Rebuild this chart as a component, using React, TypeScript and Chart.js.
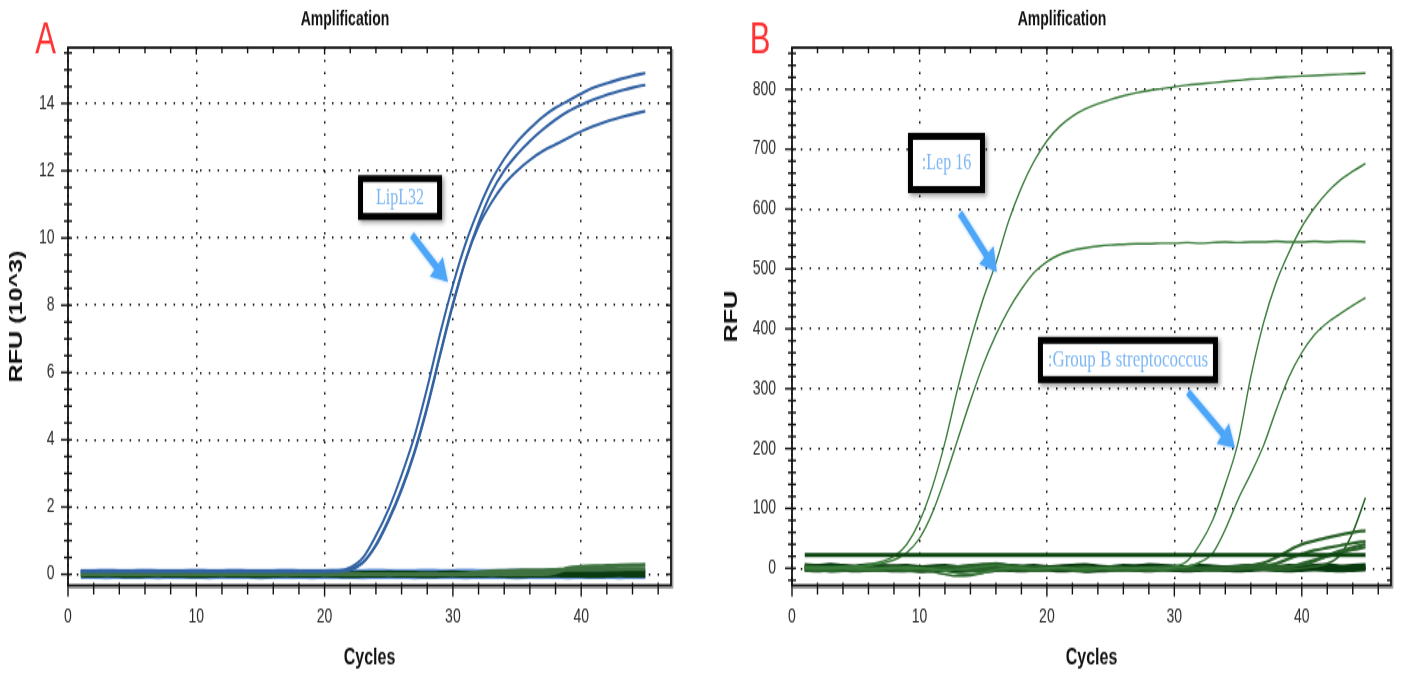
import React, { useEffect, useRef } from "react";
import { Chart, registerables } from "chart.js";

Chart.register(...registerables);

// ---------------- data ----------------
const cycles = [1, 2, 3, 4, 5, 6, 7, 8, 9, 10, 11, 12, 13, 14, 15, 16, 17, 18, 19, 20, 21, 22, 23, 24, 25, 26, 27, 28, 29, 30, 31, 32, 33, 34, 35, 36, 37, 38, 39, 40, 41, 42, 43, 44, 45];

const xTickValues = [0, 10, 20, 30, 40];
const yTickValuesA = [0, 2, 4, 6, 8, 10, 12, 14];
const yTickValuesB = [0, 100, 200, 300, 400, 500, 600, 700, 800];

// Panel A – LipL32 (RFU x10^3)
const lipl32Rep1 = [0.1, 0.1, 0.1, 0.1, 0.1, 0.1, 0.1, 0.1, 0.1, 0.1, 0.1, 0.1, 0.1, 0.1, 0.1, 0.1, 0.1, 0.1, 0.1, 0.1, 0.1, 0.2, 0.5, 1.15, 1.95, 2.95, 4.1, 5.55, 7.15, 8.6, 9.85, 10.85, 11.7, 12.35, 12.85, 13.25, 13.6, 13.87, 14.08, 14.29, 14.47, 14.6, 14.72, 14.82, 14.9];
const lipl32Rep2 = [0.1, 0.1, 0.1, 0.1, 0.1, 0.1, 0.1, 0.1, 0.1, 0.1, 0.1, 0.1, 0.1, 0.1, 0.1, 0.1, 0.1, 0.1, 0.1, 0.1, 0.1, 0.14, 0.35, 0.85, 1.6, 2.5, 3.6, 4.95, 6.5, 8.0, 9.35, 10.45, 11.35, 12.0, 12.48, 12.88, 13.22, 13.52, 13.77, 13.96, 14.12, 14.26, 14.37, 14.47, 14.55];
const lipl32Rep3 = [0.09, 0.09, 0.09, 0.09, 0.09, 0.09, 0.09, 0.09, 0.09, 0.09, 0.09, 0.09, 0.09, 0.09, 0.09, 0.09, 0.09, 0.09, 0.09, 0.09, 0.1, 0.14, 0.36, 0.88, 1.64, 2.55, 3.65, 5.0, 6.55, 8.05, 9.35, 10.35, 11.05, 11.6, 12.0, 12.32, 12.58, 12.78, 12.98, 13.17, 13.33, 13.47, 13.58, 13.68, 13.77];
const lipl32NegHigh = [0.1, 0.1, 0.11, 0.1, 0.1, 0.11, 0.1, 0.1, 0.1, 0.11, 0.1, 0.1, 0.11, 0.1, 0.1, 0.1, 0.11, 0.1, 0.1, 0.1, 0.11, 0.1, 0.1, 0.11, 0.1, 0.1, 0.1, 0.11, 0.1, 0.1, 0.11, 0.1, 0.1, 0.1, 0.11, 0.1, 0.1, 0.11, 0.1, 0.1, 0.1, 0.11, 0.1, 0.1, 0.1];
const lipl32NegLow = [-0.08, -0.08, -0.09, -0.08, -0.08, -0.08, -0.09, -0.08, -0.08, -0.08, -0.09, -0.08, -0.08, -0.08, -0.09, -0.08, -0.08, -0.08, -0.09, -0.08, -0.08, -0.08, -0.09, -0.08, -0.08, -0.08, -0.09, -0.08, -0.08, -0.08, -0.09, -0.08, -0.08, -0.08, -0.09, -0.08, -0.08, -0.08, -0.09, -0.08, -0.08, -0.08, -0.09, -0.08, -0.08];
const greenNegA = [0.01, 0.0, 0.01, 0.0, -0.01, 0.0, 0.01, 0.0, 0.0, -0.01, 0.0, 0.01, 0.0, 0.0, -0.01, 0.0, 0.01, 0.0, 0.0, 0.01, 0.0, -0.01, 0.0, 0.0, 0.01, 0.0, 0.0, -0.01, 0.0, 0.01, 0.0, 0.0, 0.01, 0.0, -0.01, 0.0, 0.0, 0.01, 0.0, 0.0, -0.01, 0.0, 0.01, 0.0, 0.0];
const greenLateA1 = [0, 0, 0, 0, 0, 0, 0, 0, 0, 0, 0, 0, 0, 0, 0, 0, 0, 0, 0, 0, 0, 0, 0, 0, 0, 0, 0, 0, 0, 0, 0.02, 0.06, 0.09, 0.1, 0.11, 0.12, 0.12, 0.13, 0.14, 0.14, 0.15, 0.15, 0.15, 0.16, 0.16];
const greenLateA2 = [0, 0, 0, 0, 0, 0, 0, 0, 0, 0, 0, 0, 0, 0, 0, 0, 0, 0, 0, 0, 0, 0, 0, 0, 0, 0, 0, 0, 0, 0, 0, 0, 0, 0, 0, 0, 0, 0.05, 0.18, 0.22, 0.24, 0.25, 0.26, 0.27, 0.28];

// Panel B – Lep 16 / Group B streptococcus (RFU)
const lep16High = [2, 1, 2, 1, 3, 6, 11, 20, 40, 78, 135, 210, 300, 380, 450, 510, 580, 636, 680, 714, 738, 755, 767, 776, 783, 789, 794, 798, 801, 804, 807, 809, 811, 813, 815, 817, 818, 820, 821, 822, 823, 824, 825, 826, 827];
const lep16Low = [1, 0, 1, 2, 2, 4, 8, 14, 26, 50, 92, 150, 215, 280, 340, 390, 432, 466, 494, 512, 524, 531, 535, 538, 540, 541, 542, 542, 543, 543, 544, 543, 544, 545, 544, 545, 545, 546, 545, 545, 546, 545, 546, 546, 545];
const gbsHigh = [1, -1, 0, 2, 1, -2, -1, 0, 2, 1, -1, -3, -2, 0, 3, 5, 2, 0, -1, 1, 2, 0, -2, -1, 1, 0, -1, 1, 0, 3, 12, 40, 80, 140, 210, 320, 410, 478, 528, 570, 602, 628, 648, 663, 676];
const gbsLow = [0, 1, -1, 0, -2, -1, 0, 1, -1, 0, -2, -5, -9, -10, -7, -2, 0, 1, -1, 0, 1, -1, 0, 1, -1, 0, 1, 0, -1, 1, 3, 10, 25, 65, 115, 158, 205, 265, 320, 360, 390, 410, 425, 439, 452];
const lateB1 = [-2, -3, -1, -2, -4, -3, -2, -4, -5, -3, -6, -10, -13, -12, -8, -4, -3, -2, -4, -3, -2, -3, -4, -2, -3, -4, -2, -3, -1, -2, -3, -2, -4, -3, -2, -1, -2, -3, -2, 0, 3, 8, 22, 60, 118];
const lateB2 = [4, 3, 2, 3, 1, 0, 1, 2, 0, -1, 1, 2, 3, 5, 6, 8, 5, 3, 1, 0, -1, 1, 2, 0, -1, -2, 0, 1, 2, 1, 0, -1, 1, 2, 3, 5, 9, 18, 30, 40, 46, 51, 56, 60, 63];
const lateB3 = [-1, 0, -2, -1, 0, 1, -1, -2, -3, -2, -1, 0, -2, -3, -1, 0, 1, -1, -2, -1, 0, -2, -3, -1, 0, -2, -3, -1, 0, -1, 1, 0, -1, 0, 2, 3, 4, 8, 16, 24, 30, 34, 38, 42, 45];
const lateB4 = [3, 2, 0, 1, 2, -1, 0, 1, 2, 0, -1, 1, 0, 2, 1, 0, -1, 0, 2, 1, 0, -1, 1, 0, 2, 1, -1, 0, 1, 0, -1, 0, 1, 0, -1, 1, 0, 2, 3, 6, 12, 21, 29, 35, 40];
const lateB5 = [-4, -3, -5, -4, -2, -3, -4, -2, -1, -3, -4, -2, -1, -3, -5, -4, -2, -3, -4, -2, -1, -3, -4, -2, -3, -1, -2, -4, -3, -2, -1, -2, -3, -1, 0, 1, 2, 1, 2, 8, 14, 20, 26, 31, 35];
const negB1 = [2, 1, 3, 2, 0, -1, 1, 2, 1, -1, 0, 1, -2, -1, 0, 2, 3, 1, 0, -1, 1, 2, 0, -1, 0, 1, 2, 1, 0, -1, 0, 1, 0, -1, 0, 1, 2, 1, 0, 1, 2, 1, 0, 1, 2];
const negB2 = [-2, -3, -1, -2, -3, -2, -1, -3, -2, -4, -3, -2, -4, -3, -2, -1, -2, -3, -2, -1, -3, -2, -4, -3, -2, -1, -2, -3, -1, -2, -3, -2, -1, -2, -3, -2, -1, -2, -3, -2, -1, -2, -3, -2, -1];
const negB3 = [5, 4, 6, 4, 3, 5, 4, 3, 4, 2, 3, 4, 2, 3, 5, 6, 4, 3, 4, 2, 3, 4, 5, 3, 2, 4, 3, 5, 4, 3, 2, 4, 3, 2, 3, 4, 3, 2, 4, 3, 4, 5, 3, 4, 5];
const thresholdB = 22;

// ---------------- layout / style ----------------
const CANVAS_H = 484;
const STRETCH = 677 / CANVAS_H;
const SANS = "'Liberation Sans', Arial, Helvetica, sans-serif";
const SERIF = "'Liberation Serif', 'Times New Roman', serif";
const TICK_COLOR = "#2b2b2b";

Chart.defaults.font.family = SANS;

type Note = { text: string; at: [number, number]; size: [number, number]; fontSize: number; from: [number, number]; to: [number, number] };
type DecorCfg = {
  letter: string; letterX: number; titleX: number;
  xMinorStep: number; xMinorMax: number; xMajor: number[];
  yMinorStep: number; yMinorMin: number; yMinorMax: number; yMajor: number[];
  notes: Note[];
};

const notesA: Note[] = [
  { text: "LipL32", at: [25.88, 11.2], size: [84, 32], fontSize: 16, from: [26.81, 10.09], to: [29.62, 8.69] },
];
const notesB: Note[] = [
  { text: ":Lep 16", at: [12.12, 677], size: [77, 43], fontSize: 16, from: [13.18, 593], to: [16.08, 495] },
  { text: ":Group B streptococcus", at: [26.36, 348], size: [180, 33], fontSize: 17, from: [31.07, 294], to: [34.76, 201] },
];

const pts = (vals: number[]) => vals.map((v, i) => ({ x: cycles[i], y: v }));

function series(label: string, vals: number[], color: string, width: number) {
  return {
    label,
    data: pts(vals),
    borderColor: color,
    backgroundColor: color,
    borderWidth: width,
    pointRadius: 0,
    fill: false,
    cubicInterpolationMode: "monotone" as const,
  };
}

function makeDecor(cfg: DecorCfg) {
  return {
    id: "decor" + cfg.letter,
    afterDatasetsDraw(chart: any) {
      const { ctx, chartArea: ca } = chart;
      const xs = chart.scales.x;
      const ys = chart.scales.y;
      const seg = (x1: number, y1: number, x2: number, y2: number) => {
        ctx.beginPath();
        ctx.moveTo(x1, y1);
        ctx.lineTo(x2, y2);
        ctx.stroke();
      };
      ctx.save();
      ctx.lineCap = "butt";
      ctx.strokeStyle = "rgba(0,0,0,0.35)";
      ctx.lineWidth = 1.5;
      seg(ca.right + 1.7, ca.top + 1, ca.right + 1.7, ca.bottom + 1.7);
      seg(ca.left + 1, ca.bottom + 1.7, ca.right + 1.7, ca.bottom + 1.7);
      ctx.strokeStyle = "#111";
      ctx.lineWidth = 1.8;
      ctx.strokeRect(ca.left, ca.top, ca.right - ca.left, ca.bottom - ca.top);
      ctx.lineWidth = 1.4;
      for (let v = 0; v <= cfg.xMinorMax + 1e-9; v += cfg.xMinorStep) {
        const px = xs.getPixelForValue(v);
        const major = cfg.xMajor.some((m) => Math.abs(m - v) < 1e-6);
        seg(px, ca.bottom - 2, px, ca.bottom + (major ? 8 : 6.5));
        if (v > 0) seg(px, ca.top - 1, px, ca.top + (major ? 5 : 4));
      }
      for (let v = cfg.yMinorMin; v <= cfg.yMinorMax + 1e-9; v += cfg.yMinorStep) {
        const py = ys.getPixelForValue(v);
        const major = cfg.yMajor.some((m) => Math.abs(m - v) < 1e-6);
        seg(ca.left - (major ? 7 : 4), py, ca.left + 4, py);
        seg(ca.right - (major ? 5 : 4), py, ca.right, py);
      }
      ctx.restore();
    },
    afterDraw(chart: any) {
      const { ctx } = chart;
      const xs = chart.scales.x;
      const ys = chart.scales.y;
      ctx.save();
      for (const n of cfg.notes) {
        // arrow
        const x1 = xs.getPixelForValue(n.from[0]);
        const y1 = ys.getPixelForValue(n.from[1]);
        const x2 = xs.getPixelForValue(n.to[0]);
        const y2 = ys.getPixelForValue(n.to[1]);
        const ang = Math.atan2(y2 - y1, x2 - x1);
        const c = Math.cos(ang);
        const s = Math.sin(ang);
        const headLen = 16;
        const headHalf = 9.5;
        const bx = x2 - headLen * c;
        const by = y2 - headLen * s;
        ctx.save();
        ctx.shadowColor = "rgba(60,150,245,0.45)";
        ctx.shadowBlur = 3;
        ctx.strokeStyle = "#4da6f8";
        ctx.fillStyle = "#4da6f8";
        ctx.lineWidth = 5.5;
        ctx.lineCap = "butt";
        ctx.beginPath();
        ctx.moveTo(x1, y1);
        ctx.lineTo(bx + 1 * c, by + 1 * s);
        ctx.stroke();
        ctx.beginPath();
        ctx.moveTo(x2, y2);
        ctx.lineTo(bx + headHalf * s, by - headHalf * c);
        ctx.lineTo(bx - headHalf * s, by + headHalf * c);
        ctx.closePath();
        ctx.fill();
        ctx.restore();

        // box
        const cx = xs.getPixelForValue(n.at[0]);
        const cy = ys.getPixelForValue(n.at[1]);
        const [w, h] = n.size;
        ctx.save();
        ctx.shadowColor = "rgba(0,0,0,0.4)";
        ctx.shadowBlur = 4;
        ctx.shadowOffsetX = 2;
        ctx.shadowOffsetY = 2;
        ctx.fillStyle = "#000";
        ctx.fillRect(cx - w / 2, cy - h / 2, w, h);
        ctx.restore();
        ctx.fillStyle = "#fff";
        ctx.fillRect(cx - w / 2 + 5, cy - h / 2 + 5, w - 10, h - 10);
        ctx.fillStyle = "#7db7f3";
        ctx.font = `${n.fontSize}px ${SERIF}`;
        ctx.textAlign = "center";
        ctx.textBaseline = "middle";
        ctx.fillText(n.text, cx, cy + 0.5);
      }
      // title
      ctx.fillStyle = "#111";
      ctx.font = `bold 14px ${SANS}`;
      ctx.textAlign = "center";
      ctx.textBaseline = "middle";
      ctx.fillText("Amplification", cfg.titleX, 14.3);
      // panel letter
      ctx.fillStyle = "#ff3333";
      ctx.font = `31px ${SANS}`;
      ctx.textAlign = "center";
      ctx.textBaseline = "alphabetic";
      ctx.fillText(cfg.letter, cfg.letterX, 37.9);
      ctx.restore();
    },
  };
}

function makeConfig(p: {
  datasets: any[];
  yMin: number; yMax: number; yTicks: number[]; yTitle: string; yTitlePad: number;
  yAxisWidth: number; yLabelPad: number; rightPad: number; xLabelPad: number;
  decor: DecorCfg;
}): any {
  const gridStyle = { drawTicks: false, color: "#000", lineWidth: 1.5 };
  const borderStyle = { display: false, dash: [1.5, 7.3] };
  const tickFont = { family: SANS, size: 14 };
  return {
    type: "line",
    data: { datasets: p.datasets },
    options: {
      animation: false,
      responsive: false,
      maintainAspectRatio: false,
      events: [],
      layout: { padding: { left: 0, top: 34, right: p.rightPad, bottom: 0 } },
      plugins: { legend: { display: false }, tooltip: { enabled: false }, title: { display: false } },
      scales: {
        x: {
          type: "linear",
          min: 0,
          max: 47,
          afterBuildTicks: (s: any) => { s.ticks = xTickValues.map((v) => ({ value: v })); },
          afterFit: (s: any) => { s.height = CANVAS_H - 418.5; },
          ticks: { padding: p.xLabelPad, maxRotation: 0, autoSkip: false, color: TICK_COLOR, font: tickFont },
          grid: gridStyle,
          border: borderStyle,
          title: { display: true, text: "Cycles", color: "#111", font: { family: SANS, size: 16, weight: "bold" }, padding: { top: 0, bottom: 3.5 } },
        },
        y: {
          type: "linear",
          min: p.yMin,
          max: p.yMax,
          afterBuildTicks: (s: any) => { s.ticks = p.yTicks.map((v) => ({ value: v })); },
          afterFit: (s: any) => { s.width = p.yAxisWidth; },
          ticks: { padding: p.yLabelPad, autoSkip: false, color: TICK_COLOR, font: tickFont },
          grid: gridStyle,
          border: borderStyle,
          title: { display: true, text: p.yTitle, color: "#111", font: { family: SANS, size: 18, weight: "bold" }, padding: { top: p.yTitlePad, bottom: 0 } },
        },
      },
    },
    plugins: [makeDecor(p.decor)],
  };
}

const BLUE = "#3363a3";
const BLUE_NEG = "#5f8fd2";
const DARK_GREEN = "#0a3a0f";
const MID_GREEN = "#3f7240";
const CURVE_GREEN = "#3b7c3b";
const LATE_GREEN = "#2b632b";

function configA() {
  return makeConfig({
    datasets: [
      series("LipL32 rep 1", lipl32Rep1, BLUE, 2.1),
      series("LipL32 rep 2", lipl32Rep2, BLUE, 2.1),
      series("LipL32 rep 3", lipl32Rep3, BLUE, 2.1),
      series("Late green 2", greenLateA2, MID_GREEN, 3),
      series("Late green 1", greenLateA1, MID_GREEN, 3),
      series("Negative (green)", greenNegA, DARK_GREEN, 5),
      series("Negative (blue) high", lipl32NegHigh, BLUE_NEG, 3),
      series("Negative (blue) low", lipl32NegLow, BLUE_NEG, 3),
    ],
    yMin: -0.33,
    yMax: 15.66,
    yTicks: yTickValuesA,
    yTitle: "RFU (10^3)",
    yTitlePad: 6.7,
    yAxisWidth: 68,
    yLabelPad: 13.5,
    rightPad: 29,
    xLabelPad: 14.2,
    decor: {
      letter: "A", letterX: 45.5, titleX: 345,
      xMinorStep: 2, xMinorMax: 46, xMajor: xTickValues,
      yMinorStep: 0.5, yMinorMin: 0, yMinorMax: 15.5, yMajor: yTickValuesA,
      notes: notesA,
    },
  });
}

function configB() {
  return makeConfig({
    datasets: [
      {
        label: "Threshold",
        data: [{ x: cycles[0], y: thresholdB }, { x: cycles[cycles.length - 1], y: thresholdB }],
        borderColor: "#0c4410",
        borderWidth: 3,
        pointRadius: 0,
        fill: false,
      },
      series("Lep 16 a", lep16High, CURVE_GREEN, 1.4),
      series("Lep 16 b", lep16Low, CURVE_GREEN, 1.4),
      series("GBS a", gbsHigh, CURVE_GREEN, 1.4),
      series("GBS b", gbsLow, CURVE_GREEN, 1.4),
      series("Late 1", lateB1, LATE_GREEN, 1.6),
      series("Late 2", lateB2, LATE_GREEN, 2.2),
      series("Late 3", lateB3, LATE_GREEN, 2.2),
      series("Late 4", lateB4, LATE_GREEN, 2.2),
      series("Late 5", lateB5, LATE_GREEN, 2.2),
      series("Negative 1", negB1, DARK_GREEN, 3.6),
      series("Negative 2", negB2, DARK_GREEN, 3.6),
      series("Negative 3", negB3, DARK_GREEN, 3),
    ],
    yMin: -28.6,
    yMax: 869.7,
    yTicks: yTickValuesB,
    yTitle: "RFU",
    yTitlePad: 21.7,
    yAxisWidth: 92,
    yLabelPad: 16,
    rightPad: 12,
    xLabelPad: 14.5,
    decor: {
      letter: "B", letterX: 60, titleX: 362,
      xMinorStep: 2, xMinorMax: 46, xMajor: xTickValues,
      yMinorStep: 20, yMinorMin: -20, yMinorMax: 860, yMajor: yTickValuesB,
      notes: notesB,
    },
  });
}

function Panel({ left, width, make }: { left: number; width: number; make: () => any }) {
  const ref = useRef<HTMLCanvasElement>(null);
  useEffect(() => {
    if (!ref.current) return;
    const chart = new Chart(ref.current, make());
    return () => chart.destroy();
  }, []);
  return (
    <div
      style={{
        position: "absolute",
        left,
        top: 0,
        width,
        height: CANVAS_H,
        transform: `scaleY(${STRETCH})`,
        transformOrigin: "0 0",
      }}
    >
      <canvas ref={ref} width={width} height={CANVAS_H} style={{ display: "block", width, height: CANVAS_H }} />
    </div>
  );
}

export default function App() {
  return (
    <div style={{ position: "absolute", left: 0, top: 0, width: 1403, height: 677, background: "#fff", overflow: "hidden" }}>
      <Panel left={0} width={700} make={configA} />
      <Panel left={700} width={703} make={configB} />
    </div>
  );
}
